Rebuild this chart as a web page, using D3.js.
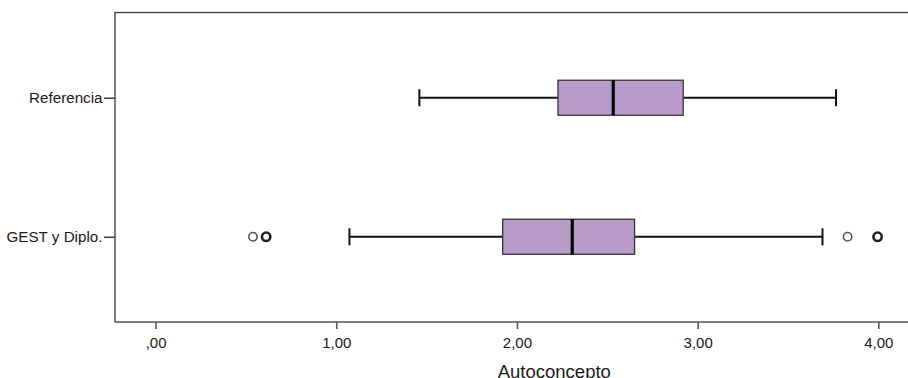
<!DOCTYPE html>
<html>
<head>
<meta charset="utf-8">
<script src="https://cdn.jsdelivr.net/npm/d3@7"></script>
<style>
  html, body { margin: 0; padding: 0; background: #fff; }
  svg { display: block; }
  text { font-family: "Liberation Sans", Arial, sans-serif; fill: #1a1a1a; }
</style>
</head>
<body>
<svg id="chart" width="908" height="378"></svg>
<script>
// Groups, top to bottom
const groups = ["Referencia", "GEST y Diplo."];
// Five-number summaries (whisker low, Q1, median, Q3, whisker high)
const whiskerLow  = [1.46, 1.073];
const q1          = [2.227, 1.921];
const median      = [2.533, 2.306];
const q3          = [2.92, 2.651];
const whiskerHigh = [3.766, 3.691];
// Outliers per group; count > 1 marks overlapping cases
const outlierValues = [[], [0.539, 0.612, 3.83, 3.996]];
const outlierCounts = [[], [1, 2, 1, 2]];
// Axis ticks
const tickValues = [0, 1, 2, 3, 4];
const tickLabels = [",00", "1,00", "2,00", "3,00", "4,00"];
const axisTitle = "Autoconcepto";

const svg = d3.select("#chart");
const plotLeft = 115, plotRight = 915, plotTop = 12.5, plotBottom = 322;

const x = d3.scaleLinear().domain([-0.2245, 4.203]).range([plotLeft, plotRight]);
const y = d3.scalePoint().domain(groups).range([plotTop, plotBottom]).padding(0.613);

// Plot frame
svg.append("rect")
  .attr("x", plotLeft).attr("y", plotTop)
  .attr("width", plotRight - plotLeft).attr("height", plotBottom - plotTop)
  .attr("fill", "none").attr("stroke", "#3a3a3a").attr("stroke-width", 1.3);

// X axis
const xAxis = d3.axisBottom(x)
  .tickValues(tickValues)
  .tickFormat((d, i) => tickLabels[i])
  .tickSize(7).tickSizeOuter(0).tickPadding(8);
const gx = svg.append("g").attr("transform", `translate(0,${plotBottom})`).call(xAxis);
gx.select(".domain").remove();
gx.selectAll(".tick line").attr("stroke", "#555").attr("stroke-width", 1.6);
gx.selectAll(".tick text").attr("font-size", 15).attr("fill", "#1a1a1a")
  .attr("font-family", "'Liberation Sans', Arial, sans-serif");

// Y axis
const yAxis = d3.axisLeft(y).tickSize(11).tickSizeOuter(0).tickPadding(1.5);
const gy = svg.append("g").attr("transform", `translate(${plotLeft},0)`).call(yAxis);
gy.select(".domain").remove();
gy.selectAll(".tick line").attr("stroke", "#444").attr("stroke-width", 1.6);
gy.selectAll(".tick text").attr("font-size", 15.2).attr("fill", "#1a1a1a")
  .attr("font-family", "'Liberation Sans', Arial, sans-serif");

// Axis title
svg.append("text")
  .attr("x", (x(2) + x(3)) / 2 - 53).attr("y", 377.5)
  .attr("text-anchor", "middle").attr("font-size", 18.5)
  .text(axisTitle);

// Boxplots
const halfBox = 17.5, halfCap = 8.5;
const plot = svg.append("g");
groups.forEach((g, i) => {
  const cy = y(g);
  // whiskers
  plot.append("line")
    .attr("x1", x(whiskerLow[i])).attr("x2", x(q1[i]))
    .attr("y1", cy).attr("y2", cy)
    .attr("stroke", "#111").attr("stroke-width", 2);
  plot.append("line")
    .attr("x1", x(q3[i])).attr("x2", x(whiskerHigh[i]))
    .attr("y1", cy).attr("y2", cy)
    .attr("stroke", "#111").attr("stroke-width", 2);
  [whiskerLow[i], whiskerHigh[i]].forEach(v => {
    plot.append("line")
      .attr("x1", x(v)).attr("x2", x(v))
      .attr("y1", cy - halfCap).attr("y2", cy + halfCap)
      .attr("stroke", "#111").attr("stroke-width", 2);
  });
  // box
  plot.append("rect")
    .attr("x", x(q1[i])).attr("y", cy - halfBox)
    .attr("width", x(q3[i]) - x(q1[i])).attr("height", 2 * halfBox)
    .attr("fill", "#b99bc9").attr("stroke", "#333").attr("stroke-width", 1.3);
  // median
  plot.append("line")
    .attr("x1", x(median[i])).attr("x2", x(median[i]))
    .attr("y1", cy - halfBox).attr("y2", cy + halfBox)
    .attr("stroke", "#000").attr("stroke-width", 3.2);
  // outliers
  outlierValues[i].forEach((v, j) => {
    const multi = outlierCounts[i][j] > 1;
    plot.append("circle")
      .attr("cx", x(v)).attr("cy", cy).attr("r", 4.2)
      .attr("fill", "none")
      .attr("stroke", multi ? "#222" : "#555")
      .attr("stroke-width", multi ? 2.6 : 1.6);
  });
});
</script>
</body>
</html>
